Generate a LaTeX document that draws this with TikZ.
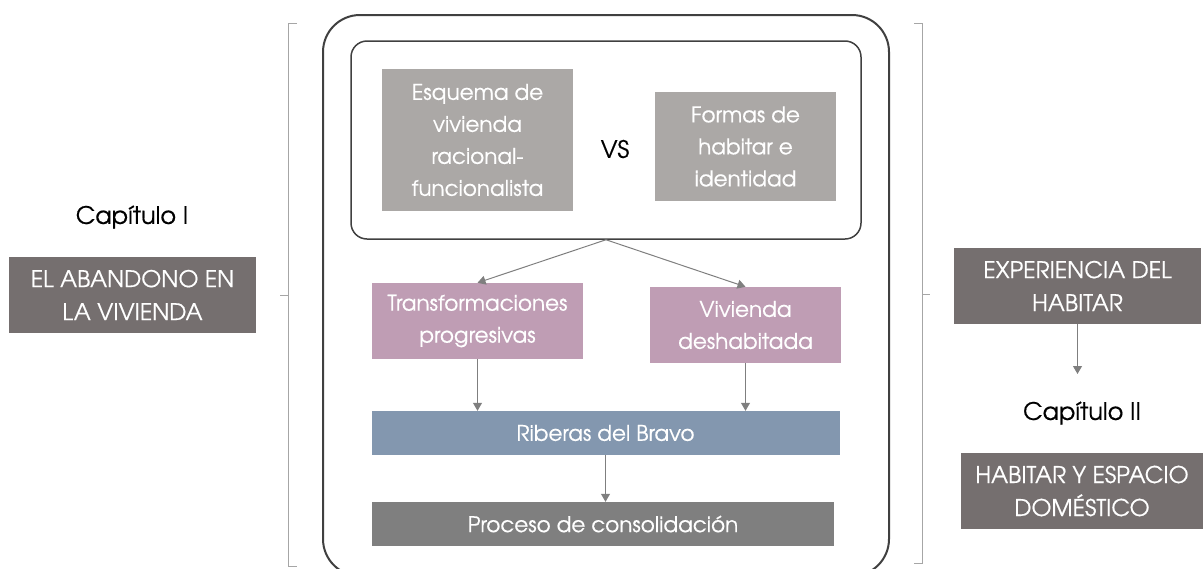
\documentclass[tikz,border=0pt]{standalone}
\usepackage{fontspec}
\setmainfont{TeX Gyre Adventor}[UprightFeatures={FakeBold=0.5}]
\usetikzlibrary{arrows.meta,positioning}
\definecolor{grisclaro}{HTML}{ABA8A6}
\definecolor{malva}{HTML}{BF9DB4}
\definecolor{azulgris}{HTML}{8397AF}
\definecolor{grismedio}{HTML}{7F7F7F}
\definecolor{grisoscuro}{HTML}{756F6F}
\definecolor{trazo}{HTML}{404040}
\tikzset{
  caja/.style={rectangle, inner sep=0pt, text=white, align=center, font=\fontsize{21.5}{32}\selectfont},
  capbox/.style={caja, fill=grisoscuro, font=\fontsize{23}{33}\selectfont},
  titulo/.style={font=\fontsize{24}{28}\selectfont, text=black},
  flecha/.style={draw=grismedio, line width=1pt, -{Triangle[length=8pt,width=9pt]}},
  corchete/.style={draw=gray!70, line width=1pt},
}

\begin{document}
\begin{tikzpicture}[x=1pt,y=-1pt]
\useasboundingbox (0,0) rectangle (1204,568);
\clip (0,0) rectangle (1204,568);
% marco exterior
\draw[trazo, line width=2pt, rounded corners=37pt] (323,15) rectangle (889,576);
\node[draw=trazo, line width=1.5pt, rounded corners=16pt, minimum width=510pt, minimum height=198pt] (cmp) at (606,140) {};
% comparacion
\node[caja, fill=grisclaro, minimum width=191pt, minimum height=142pt] (esq) at (477.5,140) {Esquema de\\vivienda\\racional-\\funcionalista};
\node[caja, fill=grisclaro, minimum width=181pt, minimum height=109pt] (formas) at (745.5,146.5) {Formas de\\habitar e\\identidad};
\node[titulo] (vs) at (615,149) {VS};
% consecuencias
\node[caja, fill=malva, minimum width=211pt, minimum height=76pt] (transf) at (477.5,321) {Transformaciones\\progresivas};
\node[caja, fill=malva, minimum width=191pt, minimum height=76pt] (vivienda) at (745.5,325) {Vivienda\\deshabitada};
\node[caja, fill=azulgris, minimum width=468pt, minimum height=44pt] (riberas) at (605.5,433) {Riberas del Bravo};
\node[caja, fill=grismedio, minimum width=462pt, minimum height=44pt] (proceso) at (603,524) {Proceso de consolidación};
\draw[flecha] (cmp.south) -- (transf.north);
\draw[flecha] (cmp.south) -- (vivienda.north);
\draw[flecha] (transf.south) -- (transf.south |- riberas.north);
\draw[flecha] (vivienda.south) -- (vivienda.south |- riberas.north);
\draw[flecha] (riberas.south) -- (riberas.south |- proceso.north);
% corchetes
\draw[corchete] (297,23) -- (288,23) -- (288,566) -- (297,566);
\draw[corchete] (288,295) -- (280,295);
\draw[corchete] (914,23) -- (922,23) -- (922,563) -- (914,563);
\draw[corchete] (922,294) -- (930,294);
% capitulo I
\node[titulo] (cap1) at (132,217) {Capítulo I};
\node[capbox, minimum width=247pt, minimum height=76pt] (abandono) at (132.5,295) {EL ABANDONO EN\\LA VIVIENDA};
% capitulo II
\node[capbox, minimum width=247pt, minimum height=76pt] (exp) at (1077.5,286) {EXPERIENCIA DEL\\HABITAR};
\coordinate (fin) at (1077.5,374);
\draw[flecha] (exp.south) -- (fin);
\node[titulo] (cap2) at (1082,413) {Capítulo II};
\node[capbox, minimum width=242pt, minimum height=76pt] (habitar) at (1082,491) {HABITAR Y ESPACIO\\DOMÉSTICO};
\end{tikzpicture}
\end{document}
